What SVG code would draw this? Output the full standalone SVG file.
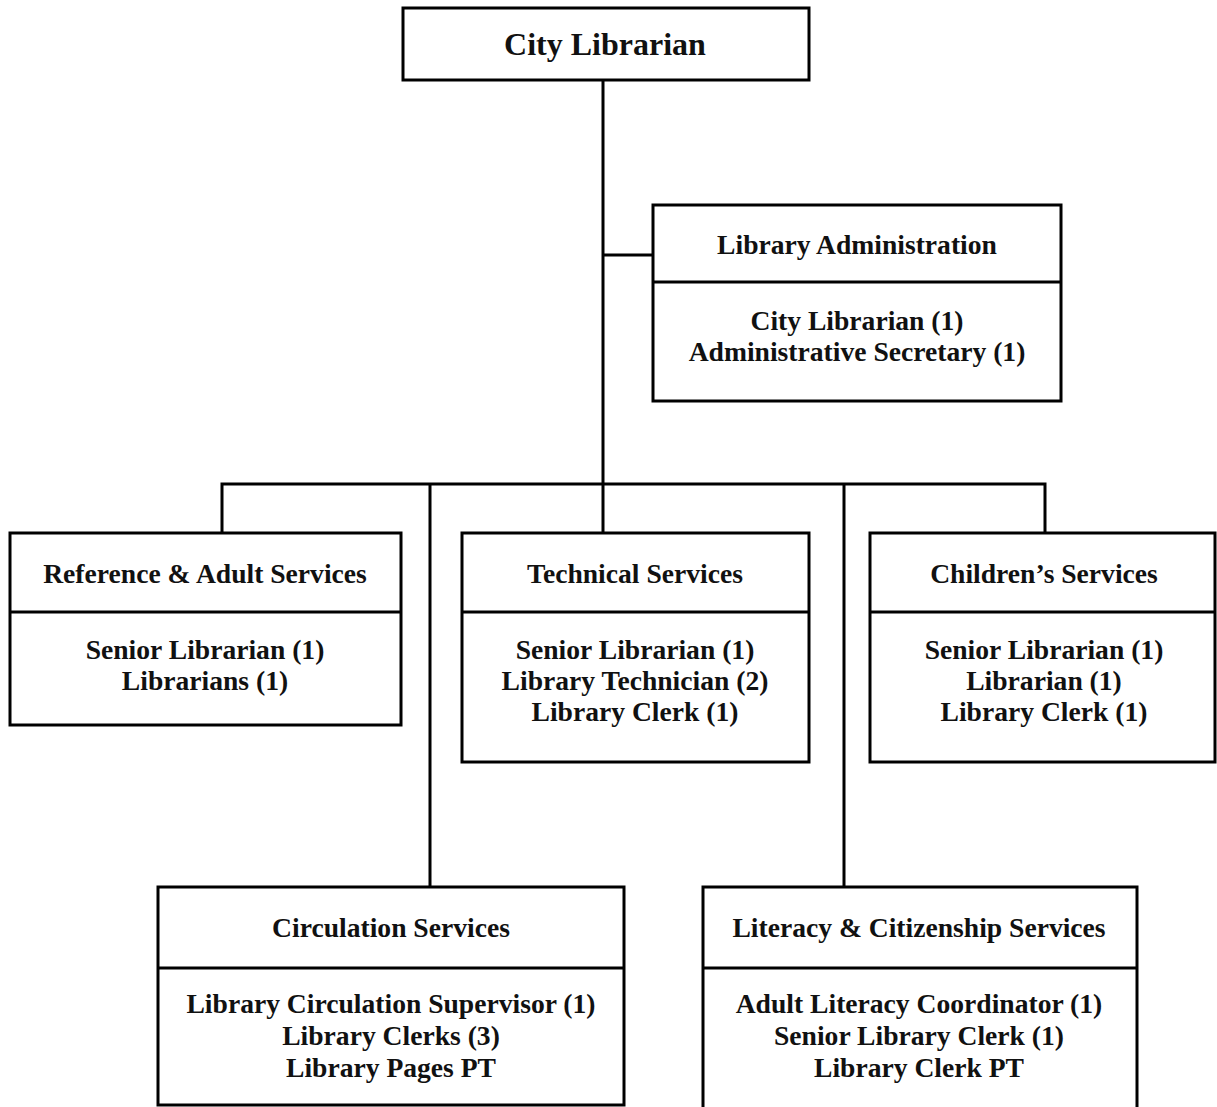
<svg xmlns="http://www.w3.org/2000/svg" width="1217" height="1107" viewBox="0 0 1217 1107">
  <style>
    .box { fill: #ffffff; stroke: #000000; stroke-width: 3; }
    .div { stroke: #000000; stroke-width: 3; }
    .conn { fill: none; stroke: #000000; stroke-width: 3; }
    text { font-family: "Liberation Serif", "Times New Roman", serif; font-weight: bold; fill: #111111; text-anchor: middle; }
    .title { font-size: 32px; }
    .head { font-size: 27.6px; }
    .body { font-size: 27.6px; }
  </style>
  <rect width="1217" height="1107" fill="#ffffff"/>

  <!-- reporting lines -->
  <g id="connectors">
    <line class="conn" x1="603" y1="80" x2="603" y2="533"/>
    <line class="conn" x1="603" y1="255" x2="653" y2="255"/>
    <polyline class="conn" points="222,533 222,484 1045,484 1045,533"/>
    <line class="conn" x1="430" y1="484" x2="430" y2="887"/>
    <line class="conn" x1="844" y1="484" x2="844" y2="887"/>
  </g>

  <g id="city-librarian">
    <rect class="box" x="403" y="8" width="406" height="72"/>
    <text class="title" x="605" y="55">City Librarian</text>
  </g>

  <g id="library-administration">
    <rect class="box" x="653" y="205" width="408" height="196"/>
    <line class="div" x1="653" y1="282" x2="1061" y2="282"/>
    <text class="head" x="857" y="254">Library Administration</text>
    <text class="body" x="857" y="330">City Librarian (1)</text>
    <text class="body" x="857" y="361">Administrative Secretary (1)</text>
  </g>

  <g id="reference-adult-services">
    <rect class="box" x="10" y="533" width="391" height="192"/>
    <line class="div" x1="10" y1="612" x2="401" y2="612"/>
    <text class="head" x="205" y="583">Reference &amp; Adult Services</text>
    <text class="body" x="205" y="659">Senior Librarian (1)</text>
    <text class="body" x="205" y="690">Librarians (1)</text>
  </g>

  <g id="technical-services">
    <rect class="box" x="462" y="533" width="347" height="229"/>
    <line class="div" x1="462" y1="612" x2="809" y2="612"/>
    <text class="head" x="635" y="583">Technical Services</text>
    <text class="body" x="635" y="659">Senior Librarian (1)</text>
    <text class="body" x="635" y="690">Library Technician (2)</text>
    <text class="body" x="635" y="721">Library Clerk (1)</text>
  </g>

  <g id="childrens-services">
    <rect class="box" x="870" y="533" width="345" height="229"/>
    <line class="div" x1="870" y1="612" x2="1215" y2="612"/>
    <text class="head" x="1044" y="583">Children’s Services</text>
    <text class="body" x="1044" y="659">Senior Librarian (1)</text>
    <text class="body" x="1044" y="690">Librarian (1)</text>
    <text class="body" x="1044" y="721">Library Clerk (1)</text>
  </g>

  <g id="circulation-services">
    <rect class="box" x="158" y="887" width="466" height="218"/>
    <line class="div" x1="158" y1="968" x2="624" y2="968"/>
    <text class="head" x="391" y="937">Circulation Services</text>
    <text class="body" x="391" y="1013">Library Circulation Supervisor (1)</text>
    <text class="body" x="391" y="1045">Library Clerks (3)</text>
    <text class="body" x="391" y="1077">Library Pages PT</text>
  </g>

  <g id="literacy-citizenship-services">
    <rect class="box" x="703" y="887" width="434" height="222"/>
    <line class="div" x1="703" y1="968" x2="1137" y2="968"/>
    <text class="head" x="919" y="937">Literacy &amp; Citizenship Services</text>
    <text class="body" x="919" y="1013">Adult Literacy Coordinator (1)</text>
    <text class="body" x="919" y="1045">Senior Library Clerk (1)</text>
    <text class="body" x="919" y="1077">Library Clerk PT</text>
  </g>
</svg>
